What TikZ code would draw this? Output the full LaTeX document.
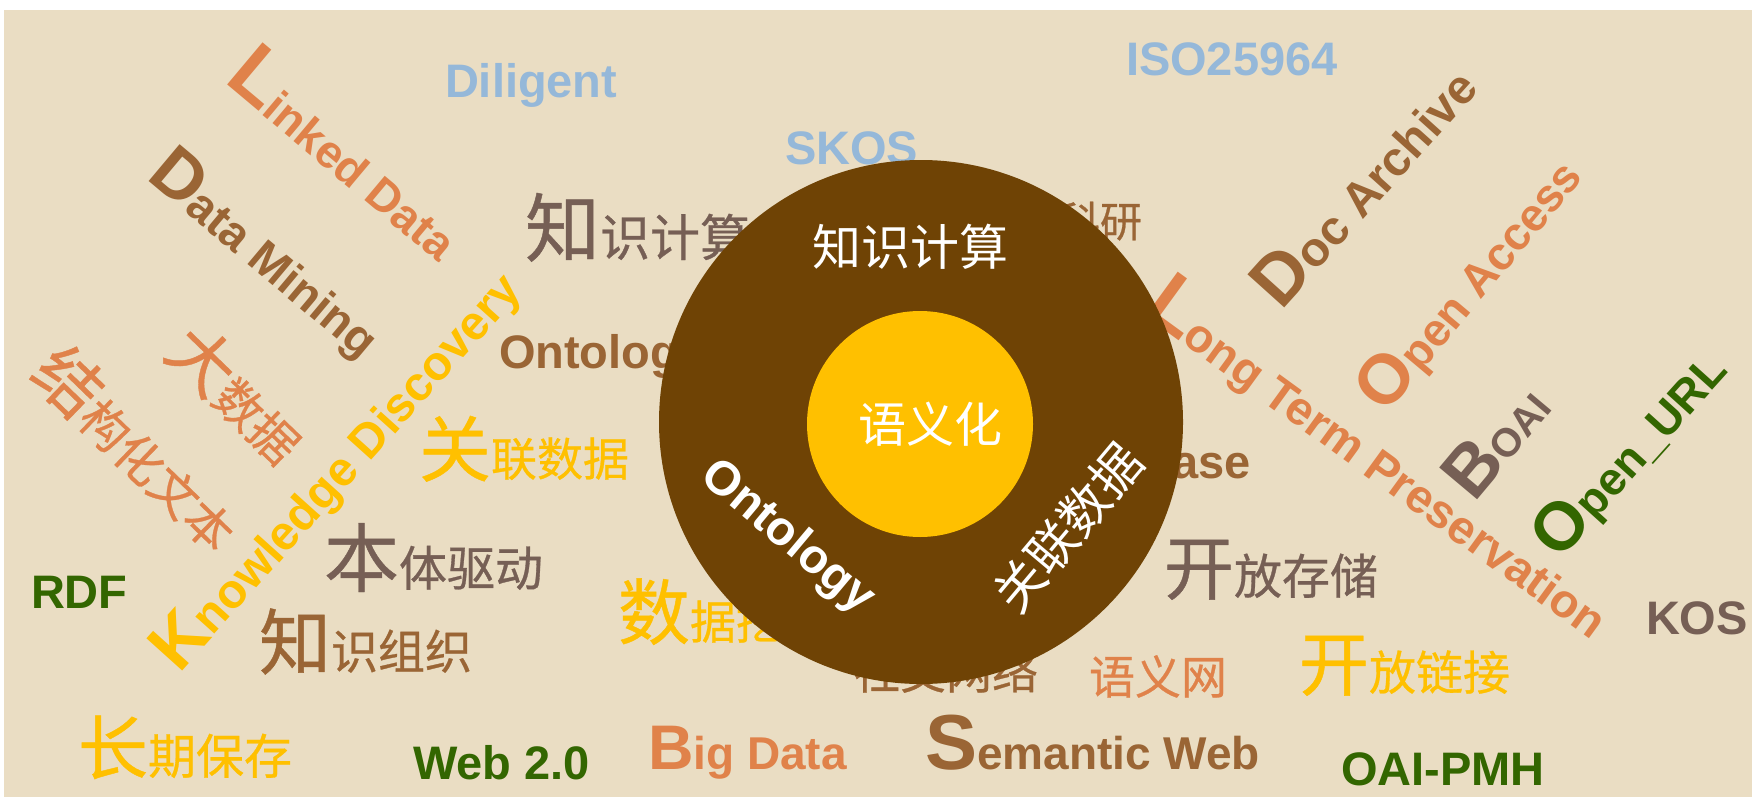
\documentclass[tikz,border=0pt]{standalone}
\usepackage{fontspec}
\setmainfont{Liberation Sans}
\newfontfamily\cjk{Noto Sans CJK SC}
\newfontfamily\cjkheavy{Noto Sans CJK SC}[FakeBold=0.6]
\definecolor{paper}{HTML}{EADDC3}
\definecolor{rust}{HTML}{E0824A}
\definecolor{umber}{HTML}{9A6535}
\definecolor{taupe}{HTML}{765F55}
\definecolor{gold}{HTML}{FFC000}
\definecolor{sky}{HTML}{95B8D9}
\definecolor{leaf}{HTML}{336600}
\definecolor{coffee}{HTML}{6F4305}
\newcommand\fs[1]{\fontsize{#1}{#1}\selectfont}
\tikzset{
  word/.style={inner sep=0pt, outer sep=0pt, anchor=base west, font=\bfseries},
  hanzi/.style={inner sep=0pt, outer sep=0pt, anchor=base west, font=\cjkheavy},
  label/.style={inner sep=0pt, outer sep=0pt, anchor=center, text=white},
}
\begin{document}
\begin{tikzpicture}[x=1pt,y=-1pt]
\useasboundingbox (0,0) rectangle (1752,797);
\fill[white] (0,0) rectangle (1752,797);
\fill[paper] (4,10) rectangle (1752,797);

% horizontal latin words
\node[word, text=sky] (dil) at (445,98) {\fs{47}Diligent};
\node[word, text=sky] (skos) at (785,164) {\fs{47}SKOS};
\node[word, text=sky] (iso) at (1126,76) {\fs{47}ISO25964};
\node[word, text=leaf] (rdf) at (31,608) {\fs{47}RDF};
\node[word, text=taupe] (kos) at (1646,634) {\fs{47}KOS};
\node[word, text=leaf] (web2) at (413,779) {\fs{47}Web 2.0};
\node[word, text=leaf] (oai) at (1341,785) {\fs{47}OAI-PMH};
\node[word, text=umber] (onto) at (499,368) {\fs{47}Ontology};
\node[word, text=umber, anchor=base east] (dbase) at (1251,478) {\fs{47}Database};
\node[word, text=rust] (bigd) at (648,769) {{\fs{63}B}{\fs{46}ig Data}};
\node[word, text=umber] (semw) at (925,769) {{\fs{78}S}{\fs{46}emantic Web}};

% horizontal chinese words
\node[hanzi, text=taupe] (zsjs) at (525,256) {{\fs{75}知}{\fs{50}识计算}};
\node[hanzi, text=umber] (ky) at (1058,237) {\fs{42}科研};
\node[hanzi, text=gold] (glsj) at (419,476) {{\fs{72}关}{\fs{46}联数据}};
\node[hanzi, text=taupe] (btqd) at (324,586) {{\fs{75}本}{\fs{48}体驱动}};
\node[hanzi, text=umber] (zszz) at (259,669) {{\fs{72}知}{\fs{47}识组织}};
\node[hanzi, text=gold] (cqbc) at (78,774) {{\fs{70}长}{\fs{48}期保存}};
\node[hanzi, text=gold] (sjwj) at (618,639) {{\fs{72}数}{\fs{46}据挖掘}};
\node[hanzi, text=umber] (sjwl) at (854,689) {\fs{46}社交网络};
\node[hanzi, text=rust] (yyw) at (1089,694) {\fs{46}语义网};
\node[hanzi, text=taupe] (kfcc) at (1164,594) {{\fs{70}开}{\fs{48}放存储}};
\node[hanzi, text=gold] (kflj) at (1299,690) {{\fs{70}开}{\fs{47}放链接}};

% slanted chinese words
\node[hanzi, text=rust, rotate=-44] (jgh) at (28,376) {{\fs{66}结}{\fs{48}构化文本}};
\node[hanzi, text=rust, rotate=-44] (dsj) at (162,355) {{\fs{66}大}{\fs{48}数据}};

% slanted latin words
\node[word, text=rust, rotate=-40] (lod) at (223,82) {{\fs{80}L}{\fs{46}inked Data}};
\node[word, text=umber, rotate=-40] (dm) at (145,178) {{\fs{70}D}{\fs{47}ata Mining}};
\node[word, text=rust, rotate=-36] (ltp) at (1141,313) {{\fs{80}L}{\fs{47}ong Term Preservation}};
\node[word, text=gold, rotate=48] (kd) at (179,674) {{\fs{70}K}{\fs{48}nowledge Discovery}};
\node[word, text=umber, rotate=48] (doc) at (1281,311) {{\fs{72}D}{\fs{48}oc Archive}};
\node[word, text=rust, rotate=50] (oa) at (1385,415) {{\fs{70}O}{\fs{46}pen Access}};
\node[word, text=taupe, rotate=50] (boai) at (1474,503) {{\fs{72}B}{\fs{40}OAI}};
\node[word, text=leaf, rotate=48] (ourl) at (1559,561) {{\fs{68}O}{\fs{46}pen\_URL}};

% central rings
\fill[coffee] (921,422) circle[radius=262];
\fill[gold] (920,424) circle[radius=113];

\node[label, font=\cjk] (ring1) at (910,247) {\fs{49}知识计算};
\node[label, font=\cjk] (core) at (930,424) {\fs{48}语义化};
\node[label, font=\bfseries, rotate=-40] (ring2) at (787,538) {\fs{48}Ontology};
\node[label, font=\cjk, rotate=50] (ring3) at (1068,528) {\fs{50}关联数据};
\end{tikzpicture}
\end{document}
